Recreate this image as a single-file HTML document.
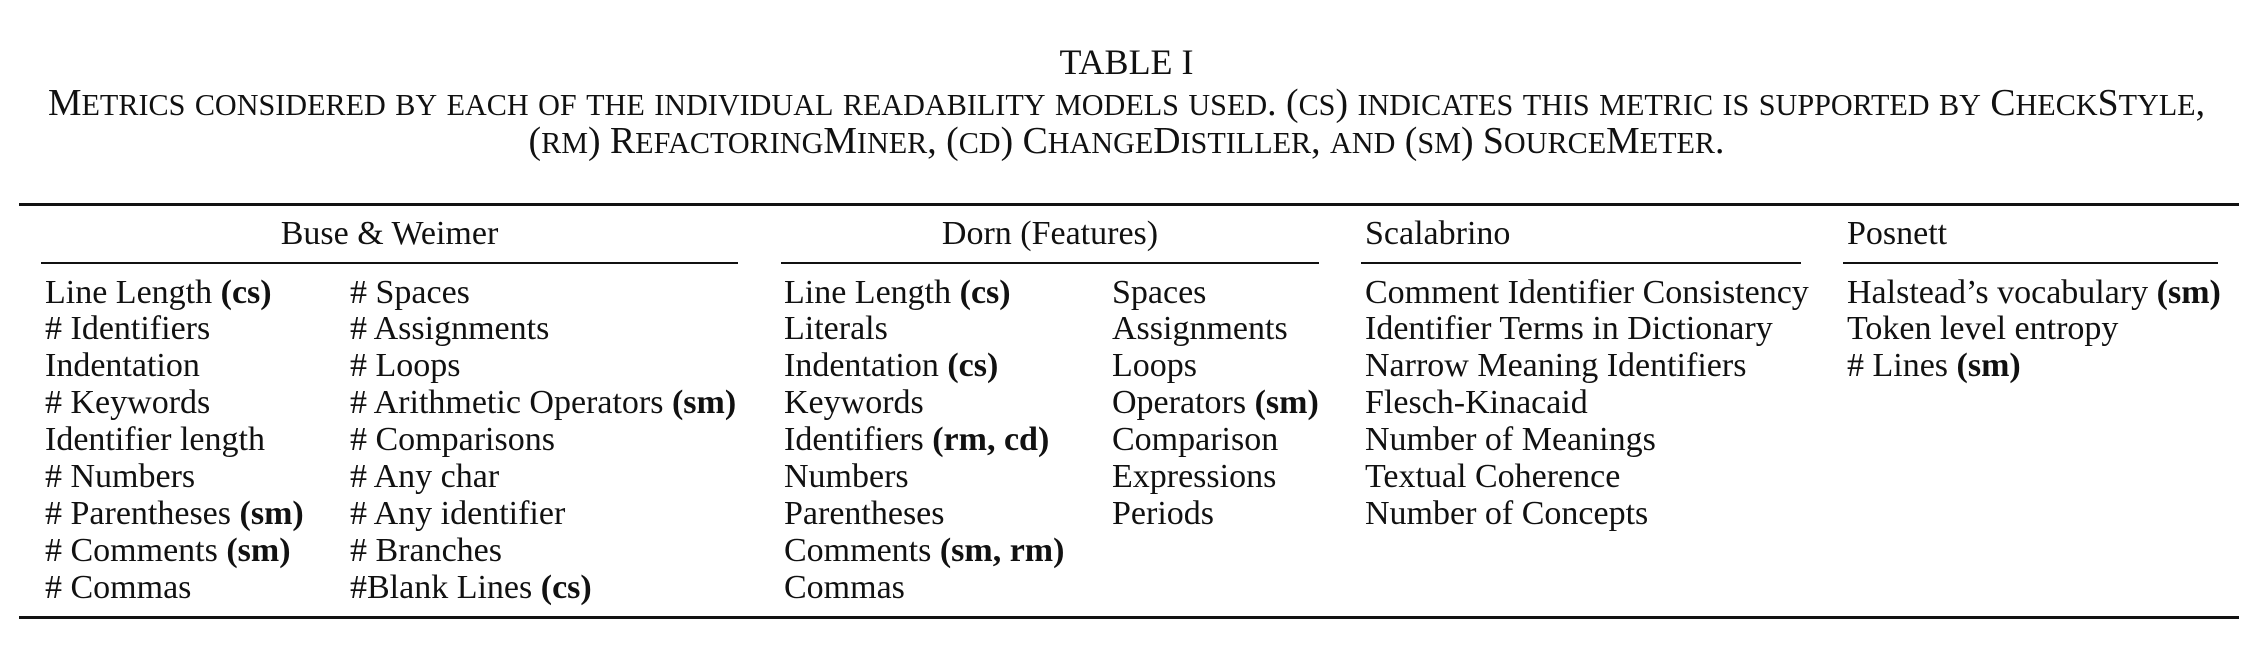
<!DOCTYPE html>
<html><head><meta charset="utf-8"><style>
body{margin:0;background:#fff;width:2253px;height:651px;position:relative;overflow:hidden;font-family:"Liberation Serif",serif;color:#111;font-size:34px}
.t{position:absolute;white-space:nowrap;line-height:37px}
.c{position:absolute;left:0;width:2253px;text-align:center;white-space:nowrap;line-height:37px}
.sm{text-transform:uppercase;font-size:0.8em}
.r{position:absolute;background:#111}
b{font-weight:bold}
#cap1,#cap2{display:inline-block}
</style></head><body>
<div class="c" style="top:44px;font-size:36px">TABLE I</div>
<div class="c" style="top:85px"><span id="cap1">Metrics considered by each of the individual readability models used. (cs) indicates this metric is supported by CheckStyle,</span></div>
<div class="c" style="top:123px"><span id="cap2">(rm) RefactoringMiner, (cd) ChangeDistiller, and (sm) SourceMeter.</span></div>
<div class="r" style="left:19px;top:203px;width:2220px;height:3px"></div>
<div class="r" style="left:19px;top:616px;width:2220px;height:3px"></div>
<div class="t" style="left:41px;width:697px;text-align:center;top:215px">Buse &amp; Weimer</div>
<div class="t" style="left:781px;width:538px;text-align:center;top:215px">Dorn (Features)</div>
<div class="t" style="left:1365px;top:215px">Scalabrino</div>
<div class="t" style="left:1847px;top:215px">Posnett</div>
<div class="r" style="left:41px;top:262px;width:697px;height:1.5px"></div>
<div class="r" style="left:781px;top:262px;width:538px;height:1.5px"></div>
<div class="r" style="left:1361px;top:262px;width:440px;height:1.5px"></div>
<div class="r" style="left:1843px;top:262px;width:375px;height:1.5px"></div>
<div id="rows"></div>
<script>
const colX=[45,350,784,1112,1365,1847];
const cols=[
["Line Length <b>(cs)</b>","# Identifiers","Indentation","# Keywords","Identifier length","# Numbers","# Parentheses <b>(sm)</b>","# Comments <b>(sm)</b>","# Commas"],
["# Spaces","# Assignments","# Loops","# Arithmetic Operators <b>(sm)</b>","# Comparisons","# Any char","# Any identifier","# Branches","#Blank Lines <b>(cs)</b>"],
["Line Length <b>(cs)</b>","Literals","Indentation <b>(cs)</b>","Keywords","Identifiers <b>(rm, cd)</b>","Numbers","Parentheses","Comments <b>(sm, rm)</b>","Commas"],
["Spaces","Assignments","Loops","Operators <b>(sm)</b>","Comparison","Expressions","Periods"],
["Comment Identifier Consistency","Identifier Terms in Dictionary","Narrow Meaning Identifiers","Flesch-Kinacaid","Number of Meanings","Textual Coherence","Number of Concepts"],
["Halstead’s vocabulary <b>(sm)</b>","Token level entropy","# Lines <b>(sm)</b>"]];
const root=document.getElementById('rows');
cols.forEach((c,ci)=>c.forEach((txt,ri)=>{
 const d=document.createElement('div');
 d.className='t';
 d.style.left=colX[ci]+'px';
 d.style.top=(292+ri*36.9-18.5)+'px';
 d.innerHTML=txt;
 
 
 root.appendChild(d);
}));
['cap1','cap2'].forEach(id=>{
 const e=document.getElementById(id);
 e.innerHTML=e.textContent.replace(/[a-z]+/g,m=>'<span class="sm">'+m+'</span>');
});
const c1=document.getElementById('cap1');
const w=c1.getBoundingClientRect().width;
const fs=34*2157/w;
c1.style.fontSize=fs+'px';
document.getElementById('cap2').style.fontSize=fs+'px';
</script>
</body></html>
